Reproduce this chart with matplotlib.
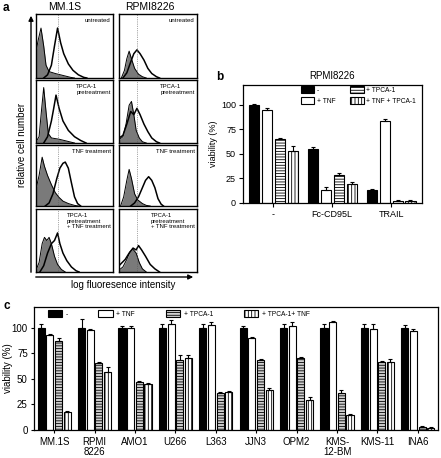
import numpy as np
import matplotlib
matplotlib.use("Agg")
import matplotlib.pyplot as plt

plt.rcParams['font.family'] = ['Liberation Sans', 'DejaVu Sans']
plt.rcParams['hatch.linewidth'] = 0.6

W, H = 441, 458

# ---- panel a: flow histograms (x, height) ----
hist_titles = ['MM.1S', 'RPMI8226']
hist_conditions = ['untreated', 'TPCA-1\npretreatment', 'TNF treatment',
                   'TPCA-1\npretreatment\n+ TNF treatment']
mm1s_gray = [
    [(0, .42), (.03, .6), (.065, .78), (.1, .5), (.13, .2), (.17, .1), (.25, .07), (.35, .04), (.45, .01), (.5, 0)],
    [(0, .02), (.04, .1), (.07, .5), (.1, .88), (.13, .5), (.16, .15), (.2, .08), (.3, .06), (.4, .03), (.5, 0)],
    [(0, .28), (.04, .5), (.08, .8), (.11, .65), (.15, .5), (.2, .35), (.25, .22), (.3, .14), (.35, .08), (.42, .04), (.5, .01), (.55, 0)],
    [(0, .03), (.04, .15), (.08, .45), (.11, .55), (.14, .5), (.17, .55), (.2, .45), (.24, .25), (.28, .12), (.33, .04), (.38, 0)],
]
mm1s_stain = [
    [(.1, 0), (.15, .05), (.2, .2), (.24, .5), (.28, .78), (.32, .55), (.36, .38), (.42, .22), (.48, .12), (.55, .05), (.62, .01), (.66, 0)],
    [(.1, 0), (.15, .1), (.2, .35), (.23, .55), (.26, .76), (.3, .55), (.35, .35), (.42, .2), (.5, .1), (.58, .04), (.65, 0)],
    [(.12, 0), (.17, .05), (.22, .2), (.27, .45), (.31, .62), (.35, .7), (.38, .72), (.42, .62), (.46, .38), (.5, .15), (.54, .04), (.58, 0)],
    [(.05, 0), (.1, .1), (.15, .3), (.2, .45), (.24, .5), (.28, .62), (.31, .45), (.35, .3), (.4, .18), (.46, .08), (.52, .02), (.56, 0)],
]
rpmi_gray = [
    [(.03, 0), (.07, .12), (.1, .3), (.13, .42), (.16, .3), (.2, .15), (.25, .06), (.3, .02), (.35, 0)],
    [(0, .05), (.05, .1), (.09, .3), (.13, .6), (.16, .66), (.19, .45), (.22, .2), (.26, .08), (.3, .02), (.35, 0)],
    [(.02, 0), (.06, .15), (.1, .42), (.13, .6), (.16, .45), (.2, .2), (.24, .1), (.3, .04), (.35, .01), (.4, 0)],
    [(0, .03), (.05, .08), (.1, .2), (.14, .32), (.18, .36), (.22, .3), (.26, .15), (.3, .05), (.35, 0)],
]
rpmi_stain = [
    [(.05, 0), (.1, .08), (.15, .25), (.19, .38), (.23, .44), (.27, .38), (.32, .28), (.37, .15), (.42, .07), (.48, .02), (.52, 0)],
    [(0, .08), (.05, .12), (.1, .3), (.15, .5), (.19, .45), (.23, .55), (.27, .45), (.32, .3), (.37, .18), (.42, .08), (.48, .02), (.52, 0)],
    [(.15, 0), (.2, .05), (.25, .15), (.3, .3), (.34, .42), (.38, .48), (.42, .42), (.46, .3), (.5, .12), (.54, .03), (.57, 0)],
    [(0, .1), (.04, .15), (.08, .2), (.13, .3), (.18, .38), (.22, .35), (.25, .42), (.29, .35), (.34, .25), (.4, .12), (.46, .05), (.52, 0)],
]
cutoff = [0.28, 0.23]

# ---- panel b ----
b_groups = ['-', 'Fc-CD95L', 'TRAIL']
b_labels = ['-', '+ TNF', '+ TPCA-1', '+ TNF + TPCA-1']
b_vals = [[100, 55, 13], [95, 13, 83], [65, 28, 2], [53, 19, 2]]
b_err = [[1, 2, 1], [2, 3, 2], [1, 3, 1], [5, 2, 1]]

# ---- panel c ----
c_groups = ['MM.1S', 'RPMI\n8226', 'AMO1', 'U266', 'L363', 'JJN3', 'OPM2',
            'KMS-\n12-BM', 'KMS-11', 'INA6']
c_labels = ['-', '+ TNF', '+ TPCA-1', '+ TPCA-1+ TNF']
c_vals = [[100, 100, 100, 100, 100, 100, 100, 100, 100, 100],
          [93, 98, 100, 103, 102, 90, 101, 105, 99, 97],
          [87, 65, 47, 68, 36, 68, 70, 36, 66, 3],
          [18, 57, 45, 70, 37, 39, 29, 15, 66, 2]]
c_err = [[3, 8, 1, 3, 3, 1, 3, 3, 3, 2],
         [1, 1, 1, 4, 3, 1, 4, 1, 4, 2],
         [3, 1, 1, 5, 1, 1, 1, 3, 1, 0.5],
         [1, 4, 1, 3, 1, 2, 3, 1, 3, 0.5]]

fills = ['black', 'white', 'white', 'white']
hatches = [None, None, '------', '|||||']

fig = plt.figure(figsize=(W / 100, H / 100), dpi=100)


def px_axes(x0, y0, x1, y1):
    return fig.add_axes([x0 / W, 1 - y1 / H, (x1 - x0) / W, (y1 - y0) / H])


# panel a
cols = [(36, 113), (119, 197)]
rows = [(14, 78), (80, 143), (145, 206), (209, 272)]
for ci, (gray_set, stain_set) in enumerate([(mm1s_gray, mm1s_stain), (rpmi_gray, rpmi_stain)]):
    for ri in range(4):
        ax = px_axes(cols[ci][0], rows[ri][0], cols[ci][1], rows[ri][1])
        gx, gy = zip(*gray_set[ri])
        sx, sy = zip(*stain_set[ri])
        ax.fill_between(gx, gy, color='#7a7a7a', lw=0)
        ax.plot(gx, gy, color='black', lw=0.7)
        ax.plot(sx, sy, color='black', lw=1.1)
        ax.axvline(cutoff[ci], color='#555555', lw=0.5, ls=':')
        ax.set_xlim(0, 1)
        ax.set_ylim(0, 1)
        ax.set_xticks([])
        ax.set_yticks([])
        for s in ax.spines.values():
            s.set_linewidth(1.0)
        ax.text(0.97, 0.94, hist_conditions[ri], transform=ax.transAxes,
                ha='right', va='top', fontsize=4.3, multialignment='left')


def bar_panel(ax, groups, vals, errs, pitch, width, face):
    x = np.arange(len(groups))
    for i in range(4):
        pos = x + (i - 1.5) * pitch
        ax.bar(pos, vals[i], width, color=face[i], edgecolor='black', lw=0.8,
               hatch=hatches[i], zorder=2)
        ax.errorbar(pos, vals[i], yerr=[np.zeros(len(groups)), errs[i]],
                    fmt='none', ecolor='black', elinewidth=0.8, capsize=1.6,
                    capthick=0.8, zorder=3)
    return x


# panel b
axb = px_axes(243, 85, 422, 203)
xb = bar_panel(axb, b_groups, b_vals, b_err, 0.22, 0.17, fills)
axb.set_xlim(-0.51, 2.525)
axb.set_ylim(0, 120)
axb.set_yticks([0, 25, 50, 75, 100])
axb.set_xticks(xb)
axb.set_xticklabels(b_groups)
axb.tick_params(labelsize=6.5, length=3, width=0.8, pad=2)
for s in axb.spines.values():
    s.set_linewidth(0.9)
hb = [plt.Rectangle((0, 0), 1, 1, fc=fills[i], ec='black', lw=0.8, hatch=hatches[i]) for i in range(4)]
axb.legend(hb, b_labels, ncol=2, fontsize=4.8, frameon=False, loc='upper left',
           bbox_to_anchor=(0.31, 1.01), handlelength=2.0, handleheight=1.1,
           columnspacing=2.2, labelspacing=0.5, handletextpad=0.4, borderaxespad=0)

# panel c
axc = px_axes(34, 307, 438, 430)
c_fills = ['black', 'white', '#cfcfcf', 'white']
xc = bar_panel(axc, c_groups, c_vals, c_err, 0.215, 0.175, c_fills)
axc.set_xlim(-0.5, 9.5)
axc.set_ylim(0, 120)
axc.set_yticks([0, 25, 50, 75, 100])
axc.set_xticks(xc)
axc.set_xticklabels(c_groups, linespacing=0.95)
axc.tick_params(labelsize=7, length=2.5, width=0.8, pad=2)
axc.tick_params(axis='x', pad=2.5)
for s in axc.spines.values():
    s.set_linewidth(0.9)
hc = [plt.Rectangle((0, 0), 1, 1, fc=c_fills[i], ec='black', lw=0.8, hatch=hatches[i]) for i in range(4)]
axc.legend(hc, c_labels, ncol=4, fontsize=4.8, frameon=False, loc='upper left',
           bbox_to_anchor=(0.027, 0.995), handlelength=2.2, handleheight=1.1,
           columnspacing=4.6, handletextpad=0.5, borderaxespad=0)

# overlay for labels and arrows
ov = fig.add_axes([0, 0, 1, 1])
ov.set_xlim(0, W)
ov.set_ylim(H, 0)
ov.axis('off')
ov.text(3, 8, 'a', fontsize=8.5, fontweight='bold', va='center')
ov.text(216, 77, 'b', fontsize=8.5, fontweight='bold', va='center')
ov.text(4, 306, 'c', fontsize=8.5, fontweight='bold', va='center')
ov.text(65, 7, hist_titles[0], fontsize=7.5, ha='center', va='center')
ov.text(150, 7, hist_titles[1], fontsize=7.5, ha='center', va='center')
ov.text(22, 145, 'relative cell number', fontsize=7, rotation=90, ha='center', va='center')
ov.text(123, 285, 'log fluoresence intensity', fontsize=7, ha='center', va='center')
ov.text(332, 76, 'RPMI8226', fontsize=7, ha='center', va='center')
ov.text(214, 144, 'viability (%)', fontsize=6.5, rotation=90, ha='center', va='center')
ov.text(8, 368, 'viability (%)', fontsize=7, rotation=90, ha='center', va='center')
ov.annotate('', xy=(31, 13), xytext=(31, 275),
            arrowprops=dict(arrowstyle='-|>', color='black', lw=1.0, mutation_scale=7))
ov.annotate('', xy=(196, 277), xytext=(33, 277),
            arrowprops=dict(arrowstyle='-|>', color='black', lw=1.0, mutation_scale=7))

fig.savefig('out.png', dpi=100)
